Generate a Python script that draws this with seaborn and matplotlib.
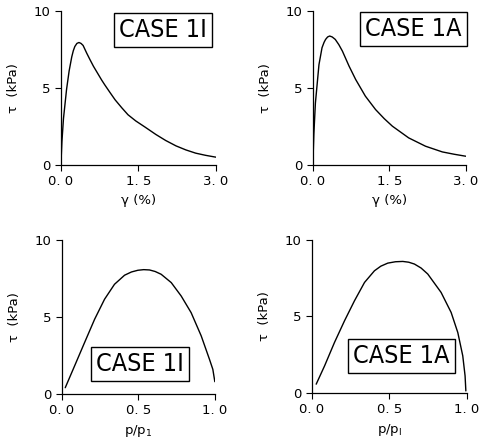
import pandas as pd
import matplotlib
matplotlib.use("Agg")
import matplotlib.pyplot as plt
import seaborn as sns

# stress-strain curves (top row), gamma in %, tau in kPa
gamma_1i = [0.0, 0.02, 0.05, 0.11, 0.16, 0.21, 0.24, 0.27, 0.31, 0.35, 0.39, 0.43, 0.5, 0.56,
            0.63, 0.71, 0.79, 0.85, 0.95, 1.05, 1.18, 1.3, 1.45, 1.63, 1.84, 2.03, 2.23,
            2.42, 2.61, 2.8, 3.0]
tau_1i = [0.0, 1.5, 3.0, 4.9, 6.1, 7.0, 7.4, 7.68, 7.88, 7.94, 7.88, 7.75, 7.25, 6.85,
          6.4, 5.95, 5.5, 5.19, 4.7, 4.22, 3.7, 3.25, 2.85, 2.45, 1.97, 1.58, 1.23,
          0.97, 0.76, 0.62, 0.5]

gamma_1a = [0.0, 0.02, 0.05, 0.12, 0.18, 0.22, 0.25, 0.29, 0.33, 0.38, 0.44, 0.51, 0.58,
            0.71, 0.84, 1.03, 1.23, 1.4, 1.56, 1.88, 2.21, 2.54, 2.77, 3.0]
tau_1a = [0.0, 2.0, 4.0, 6.5, 7.6, 7.95, 8.14, 8.3, 8.36, 8.3, 8.14, 7.8, 7.38,
          6.41, 5.54, 4.46, 3.59, 3.0, 2.51, 1.75, 1.21, 0.84, 0.69, 0.56]

# stress vs pressure ratio (bottom row)
p_1i = [0.022, 0.083, 0.148, 0.214, 0.279, 0.344, 0.41, 0.455, 0.497, 0.535, 0.573, 0.61,
        0.649, 0.715, 0.78, 0.845, 0.911, 0.965, 0.987, 1.0]
ptau_1i = [0.41, 1.82, 3.33, 4.85, 6.15, 7.12, 7.71, 7.92, 8.03, 8.07, 8.05, 7.95,
           7.77, 7.23, 6.36, 5.28, 3.77, 2.25, 1.6, 0.8]

p_1a = [0.028, 0.082, 0.146, 0.211, 0.275, 0.34, 0.404, 0.445, 0.49, 0.54, 0.587, 0.625,
        0.662, 0.705, 0.748, 0.834, 0.899, 0.942, 0.974, 0.989, 0.994]
ptau_1a = [0.57, 1.76, 3.29, 4.71, 6.01, 7.21, 7.97, 8.27, 8.47, 8.56, 8.58, 8.53,
           8.41, 8.15, 7.76, 6.56, 5.25, 3.94, 2.42, 1.11, 0.13]

sns.set_style("ticks")
plt.rcParams["font.family"] = ["DejaVu Sans"]
for k in ["text.color", "axes.labelcolor", "xtick.color", "ytick.color", "axes.edgecolor"]:
    plt.rcParams[k] = "black"

fig = plt.figure(figsize=(4.95, 4.48), dpi=100)

panels = [
    ([0.123, 0.632, 0.313, 0.344], gamma_1i, tau_1i, [0, 1.5, 3.0], ["0. 0", "1. 5", "3. 0"],
     "\u03b3 (%)", "CASE 1I", (0.66, 0.877)),
    ([0.632, 0.632, 0.309, 0.344], gamma_1a, tau_1a, [0, 1.5, 3.0], ["0. 0", "1. 5", "3. 0"],
     "\u03b3 (%)", "CASE 1A", (0.657, 0.88)),
    ([0.125, 0.1205, 0.309, 0.344], p_1i, ptau_1i, [0, 0.5, 1.0], ["0. 0", "0. 5", "1. 0"],
     "p/p$_1$", "CASE 1I", (0.513, 0.198)),
    ([0.630, 0.123, 0.313, 0.342], p_1a, ptau_1a, [0, 0.5, 1.0], ["0. 0", "0. 5", "1. 0"],
     "p/p$_\\mathrm{I}$", "CASE 1A", (0.58, 0.238)),
]

for rect, xs, ys, xt, xtl, xlab, case, pos in panels:
    ax = fig.add_axes(rect)
    df = pd.DataFrame({"x": xs, "y": ys})
    sns.lineplot(data=df, x="x", y="y", ax=ax, color="black", linewidth=1.0, sort=False)
    ax.set_xlim(xt[0], xt[-1])
    ax.set_ylim(0, 10)
    ax.set_xticks(xt)
    ax.set_xticklabels(xtl)
    ax.set_yticks([0, 5, 10])
    ax.set_yticklabels(["0", "5", "10"])
    ax.tick_params(labelsize=9.5, length=4, width=0.8)
    ax.set_xlabel(xlab, fontsize=9.5)
    ax.set_ylabel("\u03c4  (kPa)", fontsize=9.5, labelpad=10)
    sns.despine(ax=ax)
    for s in ["left", "bottom"]:
        ax.spines[s].set_linewidth(0.9)
    ax.text(pos[0], pos[1], case, transform=ax.transAxes, ha="center", va="center",
            fontsize=18, fontstretch="condensed", fontweight="light",
            family=["Liberation Sans Narrow", "DejaVu Sans"],
            bbox=dict(boxstyle="square,pad=0.2", fc="white", ec="black", lw=1.0))

fig.savefig("out.png", dpi=100)
